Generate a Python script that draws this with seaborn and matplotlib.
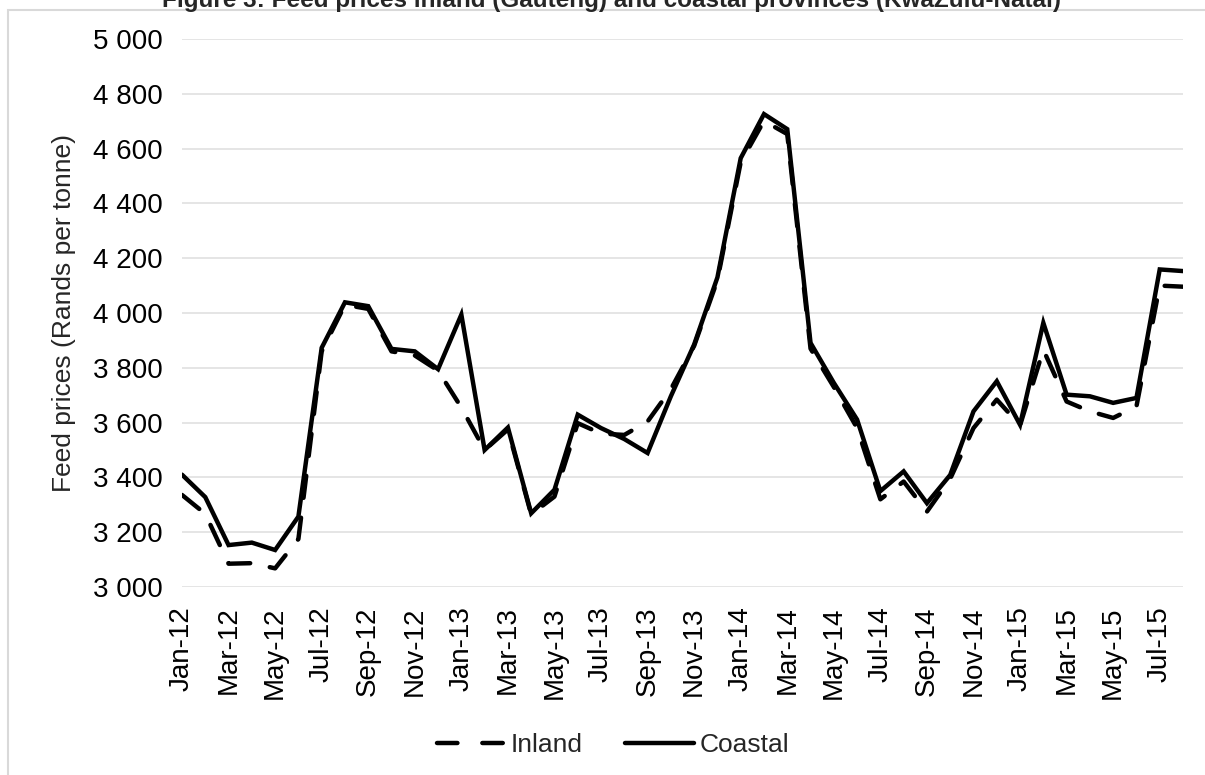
import numpy as np
import pandas as pd
import seaborn as sns
import matplotlib.pyplot as plt
from matplotlib.patches import Rectangle
from matplotlib.lines import Line2D
from matplotlib.ticker import FuncFormatter

# monthly feed prices, Jan-12 .. Aug-15 (Rands per tonne)
months = pd.date_range("2012-01-01", "2015-08-01", freq="MS").strftime("%b-%y").tolist()

inland = [3336, 3267, 3085, 3087, 3068, 3175, 3860, 4030, 4015, 3860, 3845, 3790,
          3655, 3500, 3575, 3265, 3330, 3598, 3560, 3555, 3604, 3722, 3880, 4120,
          4550, 4701, 4653, 3870, 3730, 3580, 3320, 3385, 3275, 3395, 3580, 3684,
          3590, 3866, 3677, 3641, 3617, 3659, 4100, 4096]
coastal = [3410, 3328, 3153, 3162, 3135, 3257, 3873, 4039, 4025, 3869, 3860, 3795,
           3994, 3500, 3582, 3269, 3355, 3629, 3580, 3540, 3489, 3696, 3885, 4130,
           4565, 4726, 4671, 3891, 3745, 3611, 3350, 3422, 3306, 3409, 3641, 3751,
           3592, 3964, 3702, 3696, 3672, 3690, 4159, 4153]

y_ticks = [3000, 3200, 3400, 3600, 3800, 4000, 4200, 4400, 4600, 4800, 5000]

df = pd.DataFrame({
    "idx": list(range(len(months))) * 2,
    "price": inland + coastal,
    "series": ["Inland"] * len(months) + ["Coastal"] * len(months),
})

sns.set_style("white")
plt.rcParams["font.family"] = ["Liberation Sans", "DejaVu Sans"]

fig = plt.figure(figsize=(12.05, 7.75), dpi=100)
ax = fig.add_axes([182 / 1205, 1 - 587 / 775, (1183 - 182) / 1205, (587 - 39) / 775])

lw = 3.2
sns.lineplot(data=df, x="idx", y="price", hue="series", style="series",
             palette={"Inland": "black", "Coastal": "black"},
             dashes={"Inland": (5, 4.5), "Coastal": ""},
             linewidth=lw, legend=False, ax=ax)
for ln in ax.get_lines():
    ln.set_dash_capstyle("round")
    ln.set_solid_joinstyle("miter")

ax.set_xlim(0, len(months) - 1)
ax.set_ylim(3000, 5000)
ax.set_yticks(y_ticks)
ax.yaxis.set_major_formatter(FuncFormatter(lambda v, p: f"{int(v):,}".replace(",", " ")))
ax.set_xticks(range(0, len(months), 2))
ax.set_xticklabels(months[::2], rotation=90)
ax.tick_params(axis="both", length=0, labelsize=20, colors="black", pad=14)
ax.tick_params(axis="x", pad=14)
ax.grid(axis="y", color="#dedede", linewidth=1.1)
ax.set_axisbelow(True)
for s in ax.spines.values():
    s.set_visible(False)
ax.set_xlabel("")
ax.set_ylabel("Feed prices (Rands per tonne)", fontsize=19, labelpad=12)

handles = [
    Line2D([0], [0], color="black", lw=lw, dashes=(4.6, 5.6), dash_capstyle="round"),
    Line2D([0], [0], color="black", lw=lw),
]
fig.legend(handles, ["Inland", "Coastal"], loc="center", bbox_to_anchor=(613 / 1205, 1 - 745 / 775),
           ncol=2, frameon=False, fontsize=19, handlelength=2.6, handletextpad=0.2,
           columnspacing=1.6)

# outer chart border (partly outside the image)
fig.patches.append(Rectangle((8 / 1205, -0.05), 1.2, 1 - 10 / 775 + 0.05,
                             transform=fig.transFigure, fill=False,
                             edgecolor="#d9d9d9", linewidth=1.5))

fig.text(612 / 1205, 1 - 7 / 775,
         "Figure 3: Feed prices inland (Gauteng) and coastal provinces (KwaZulu-Natal)",
         ha="center", va="baseline", fontsize=17.5, fontweight="bold")

fig.savefig("out.png", dpi=100)
